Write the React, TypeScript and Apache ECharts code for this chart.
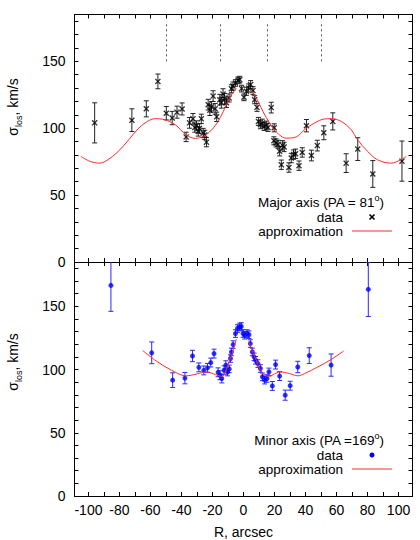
import React, { useEffect, useRef } from 'react';
import * as echarts from 'echarts';

// ---- Major axis (PA = 81°) ----
const majorR = [-96, -72, -62.7, -55.2, -49.8, -46, -42.9, -39.6, -37, -34.8, -32.6, -31.4, -30.3, -29.2, -28.4, -27.2, -26, -25, -23.9, -22.8, -21.7, -20.6, -19.6, -18.3, -17.3, -15.3, -14.3, -13.2, -12.2, -11, -9.3, -7.8, -6.8, -5.2, -3.5, -2.4, -1.2, 0.3, 1.9, 3.3, 4.6, 6.1, 7.2, 8.7, 9.6, 10.9, 12.1, 13.4, 14.7, 15.8, 17.9, 19.8, 19.6, 21, 22.3, 23.3, 24.4, 25.2, 26.2, 29.3, 30.8, 32.3, 33.6, 35.8, 37.9, 40.6, 43.8, 47.6, 51.8, 57.6, 66.2, 73.7, 83.4, 102.2];
const majorSigma = [104, 106, 114.5, 135, 111.2, 107.6, 112, 114.4, 93.5, 104, 107, 100.5, 102, 97.6, 99.8, 107, 96.4, 95, 89.6, 117.6, 113.5, 116, 124, 114.5, 108.5, 121.3, 119, 125.5, 122, 119, 122.6, 129.5, 131.5, 133.8, 135.8, 136.3, 129.6, 123.1, 127.6, 130.1, 132.6, 128.1, 121.3, 115.6, 105.1, 102.6, 103.8, 101.3, 102.3, 100.6, 115.4, 100.3, 90.6, 89, 88, 82.8, 72.7, 87.2, 86, 70.6, 77.7, 80.3, 80.9, 72, 81.9, 101.9, 79.6, 87, 96.6, 105.1, 73.9, 84.4, 65.8, 75.4];
const majorErr = [15, 8.5, 6, 5.5, 5, 5, 4.5, 4.5, 3.5, 4, 4, 3.5, 3.5, 3.5, 3.5, 3.5, 3.5, 3.5, 3.5, 4, 4, 4, 4, 4, 3.5, 4, 4, 4, 4, 3.5, 3, 3, 3, 2.5, 2.5, 2.5, 2.5, 2.5, 3, 3, 3, 3, 3, 3, 3, 3, 3, 3, 3, 3, 4, 3, 3, 3, 3, 3.5, 3.5, 3.5, 3.5, 3.5, 3.5, 3.5, 3.5, 3.5, 3.5, 4.6, 4, 4, 5.2, 6.4, 7, 8.5, 10, 15];
const majorFitR = [-105, -100, -96, -93, -88, -81, -74, -68, -62, -57, -51, -44, -37, -31, -26, -22, -17, -13, -9, -4.6, 0, 4.6, 8.3, 12.5, 16.8, 21.2, 27.6, 34, 39.4, 45.8, 52.2, 56.5, 63, 69.4, 73.6, 80.1, 86.5, 95, 101.5, 105];
const majorFitSigma = [79, 75.7, 74.3, 73.9, 76, 82.4, 91.4, 99.6, 105.1, 107.1, 106.4, 102.6, 95.1, 92.4, 93.9, 97.1, 103.9, 112.6, 122.6, 130, null, 129, 122.6, 112.6, 103.9, 97.1, 92.6, 93.5, 98.9, 103.9, 106.9, 107.1, 105.1, 98.9, 91.4, 82.6, 76.4, 73.9, 76.4, 79];
const slitMarksR = [-50, -15, 15, 50];
const slitMarksRange = [150, 180];

// ---- Minor axis (PA = 169°) ----
const minorR = [-85.5, -59.2, -45.7, -37.8, -32.9, -28.8, -25.6, -23.2, -21.1, -19, -16.4, -15.2, -14, -12.5, -11.4, -10.3, -9.2, -8.4, -7.8, -6.7, -5.2, -3.9, -2.4, -1.4, -0.3, 0.8, 2.3, 3.5, 4.4, 5.7, 6.8, 7.8, 9.3, 10.9, 12.2, 13.6, 15.1, 16.4, 18.6, 20.7, 23.3, 26.9, 30.1, 35, 42.4, 56.5, 80.5];
const minorSigma = [166.5, 113.2, 91.6, 93.2, 110.7, 101.7, 99.3, 101.3, 105.5, 112.6, 97.8, 95.5, 92.9, 99.4, 103.4, 98, 100.5, 108.7, 113.9, 119.7, 128.4, 132.4, 133.6, 134, 128.5, 127.1, 128.4, 127.5, 120.5, 113.9, 110, 107.3, 104.7, 100.8, 94.2, 91.6, 92.9, 98.1, 87, 103.9, 94.8, 79.7, 87.2, 102, 111, 103.5, 163.4];
const minorErr = [20.5, 8.6, 5.8, 4.5, 4.5, 3.5, 3.5, 3.5, 3.5, 3.5, 3.5, 3.5, 3.5, 3.5, 3.5, 3, 3, 3, 3, 3, 3, 3, 3, 3, 3, 3, 3, 3, 3, 3, 3, 3, 3, 3, 3, 3, 3, 3, 3.5, 3.5, 3.5, 4, 3.5, 4.5, 6.2, 8.8, 21.5];
const minorFitR = [-65, -56, -46.4, -37, -30, -24, -18, -14, -10, -7, -4.6, 0, 3.5, 6, 8.3, 10.5, 13.6, 16.8, 20, 23.3, 29.7, 35, 39.4, 47.9, 56.5, 64.6];
const minorFitSigma = [115, 106.5, 99.4, 95, 96.5, 98.1, 96, 94.5, 103.4, 114, 124, null, 122.6, 113.5, 107.3, 100.5, 95.5, 94.7, 96.5, 98.1, 96.8, 95, 96.8, 102, 107.9, 114.7];

// ---- Axes ----
const xRange = [-109, 109];
const yRange = [0, 185];
const xTickLabels = [-100, -80, -60, -40, -20, 0, 20, 40, 60, 80, 100];
const xTicks = [-100, -90, -80, -70, -60, -50, -40, -30, -20, -10, 0, 10, 20, 30, 40, 50, 60, 70, 80, 90, 100];
const yTickLabels = [0, 50, 100, 150];
const yTicks = [0, 10, 20, 30, 40, 50, 60, 70, 80, 90, 100, 110, 120, 130, 140, 150, 160, 170, 180];

const FONT = "'Liberation Sans', Arial, Helvetica, sans-serif";
const RED = '#ff2a2a';
const BLUE = '#0000ff';

const errRender = (color: string) => (params: any, api: any) => {
  const x = api.value(0);
  const y = api.value(1);
  const e = api.value(2);
  const c = api.coord([x, y]);
  const hi = api.coord([x, y + e]);
  const lo = api.coord([x, y - e]);
  const w = 2.5;
  const style = { stroke: color, lineWidth: 1 };
  return {
    type: 'group',
    children: [
      { type: 'line', shape: { x1: c[0], y1: hi[1], x2: c[0], y2: lo[1] }, style },
      { type: 'line', shape: { x1: c[0] - w, y1: hi[1], x2: c[0] + w, y2: hi[1] }, style },
      { type: 'line', shape: { x1: c[0] - w, y1: lo[1], x2: c[0] + w, y2: lo[1] }, style },
    ],
  };
};

const xAxisDef = (gridIndex: number, position: string, labels: boolean) => ({
  type: 'value',
  gridIndex,
  position,
  min: xRange[0],
  max: xRange[1],
  axisLine: { show: true, onZero: false, lineStyle: { color: '#000', width: 1 } },
  axisTick: { show: true, inside: true, length: 4, customValues: xTicks, lineStyle: { color: '#000' } },
  axisLabel: { show: labels, customValues: xTickLabels, color: '#000', fontSize: 14, fontFamily: FONT, margin: 7 },
  splitLine: { show: false },
  ...(labels
    ? { name: 'R, arcsec', nameLocation: 'middle', nameGap: 29, nameTextStyle: { color: '#000', fontSize: 14, fontFamily: FONT } }
    : {}),
});

const yAxisDef = (gridIndex: number, position: string, labels: boolean) => ({
  type: 'value',
  gridIndex,
  position,
  min: yRange[0],
  max: yRange[1],
  axisLine: { show: true, onZero: false, lineStyle: { color: '#000', width: 1 } },
  axisTick: { show: true, inside: true, length: 4, customValues: yTicks, lineStyle: { color: '#000' } },
  axisLabel: { show: labels, customValues: yTickLabels, color: '#000', fontSize: 14, fontFamily: FONT, margin: 9 },
  splitLine: { show: false },
});

const fitData = (rs: number[], ss: (number | null)[]) => rs.map((r, i) => [r, ss[i] == null ? '-' : ss[i]]);

const crossPath = 'path://M0,1.6L1.6,0L5,3.4L8.4,0L10,1.6L6.6,5L10,8.4L8.4,10L5,6.6L1.6,10L0,8.4L3.4,5Z';

const yLabel = (y: number) => ({
  type: 'text',
  x: 13,
  y,
  rotation: Math.PI / 2,
  style: {
    text: '{m|σ}{s|los}{m|, km/s}',
    align: 'center',
    verticalAlign: 'middle',
    textAlign: 'center',
    textVerticalAlign: 'middle',
    fill: '#000',
    fontFamily: FONT,
    rich: {
      m: { fontSize: 14, lineHeight: 20, verticalAlign: 'middle', fontFamily: FONT, fill: '#000', color: '#000' },
      s: { fontSize: 9, lineHeight: 10, verticalAlign: 'bottom', fontFamily: FONT, fill: '#000', color: '#000' },
    },
  },
});

const txt = (x: number, y: number, text: string, size: number) => ({
  type: 'text',
  x,
  y,
  style: { text, align: 'right', verticalAlign: 'middle', textAlign: 'right', textVerticalAlign: 'middle', fill: '#000', fontSize: size, fontFamily: FONT },
});

// title with superscript degree sign: main text, raised "o", closing parenthesis
const legendTitle = (y: number, label: string) => [
  txt(384, y, ')', 13.5),
  txt(379.5, y - 4.5, 'o', 9),
  txt(374.5, y, label, 13.5),
];

export default function App() {
  const ref = useRef<HTMLDivElement>(null);
  useEffect(() => {
    if (!ref.current) return;
    const chart = echarts.init(ref.current, null, { renderer: 'svg' });
    const majorData = majorR.map((r, i) => [r, majorSigma[i], majorErr[i]]);
    const minorData = minorR.map((r, i) => [r, minorSigma[i], minorErr[i]]);
    const option: any = {
      animation: false,
      backgroundColor: '#fff',
      textStyle: { fontFamily: FONT },
      grid: [
        { left: 74.5, top: 14.5, width: 338, height: 247.5 },
        { left: 74.5, top: 262, width: 338, height: 234 },
      ],
      xAxis: [xAxisDef(0, 'bottom', false), xAxisDef(0, 'top', false), xAxisDef(1, 'bottom', true), xAxisDef(1, 'top', false)],
      yAxis: [yAxisDef(0, 'left', true), yAxisDef(0, 'right', false), yAxisDef(1, 'left', true), yAxisDef(1, 'right', false)],
      series: [
        {
          name: 'major errors',
          type: 'custom',
          xAxisIndex: 0,
          yAxisIndex: 0,
          clip: true,
          renderItem: errRender('#222'),
          encode: { x: 0, y: 1 },
          data: majorData,
          z: 2,
        },
        {
          name: 'major data',
          type: 'scatter',
          xAxisIndex: 0,
          yAxisIndex: 0,
          symbol: crossPath,
          symbolSize: 6,
          itemStyle: { color: '#000' },
          data: majorData.map((d) => [d[0], d[1]]),
          z: 3,
        },
        {
          name: 'major approximation',
          type: 'line',
          xAxisIndex: 0,
          yAxisIndex: 0,
          showSymbol: false,
          symbol: 'none',
          smooth: 0.35,
          connectNulls: false,
          lineStyle: { color: RED, width: 1 },
          data: fitData(majorFitR, majorFitSigma),
          z: 4,
          markLine: {
            silent: true,
            symbol: ['none', 'none'],
            label: { show: false },
            lineStyle: { color: '#555', type: [2, 3], width: 1 },
            data: slitMarksR.map((r) => [{ coord: [r, slitMarksRange[0]] }, { coord: [r, slitMarksRange[1]] }]),
          },
        },
        {
          name: 'minor errors',
          type: 'custom',
          xAxisIndex: 2,
          yAxisIndex: 2,
          clip: true,
          renderItem: errRender('#2a2aff'),
          encode: { x: 0, y: 1 },
          data: minorData,
          z: 2,
        },
        {
          name: 'minor data',
          type: 'scatter',
          xAxisIndex: 2,
          yAxisIndex: 2,
          symbol: 'circle',
          symbolSize: 5,
          itemStyle: { color: BLUE },
          data: minorData.map((d) => [d[0], d[1]]),
          z: 3,
        },
        {
          name: 'minor approximation',
          type: 'line',
          xAxisIndex: 2,
          yAxisIndex: 2,
          showSymbol: false,
          symbol: 'none',
          smooth: 0.35,
          connectNulls: false,
          lineStyle: { color: RED, width: 1 },
          data: fitData(minorFitR, minorFitSigma),
          z: 4,
        },
      ],
      graphic: [
        yLabel(107),
        yLabel(362),
        ...legendTitle(202.5, 'Major axis (PA = 81'),
        txt(343, 217, 'data', 13.5),
        { type: 'line', shape: { x1: 369.5, y1: 214.5, x2: 374.5, y2: 219.5 }, style: { stroke: '#000', lineWidth: 1.6 } },
        { type: 'line', shape: { x1: 369.5, y1: 219.5, x2: 374.5, y2: 214.5 }, style: { stroke: '#000', lineWidth: 1.6 } },
        txt(343, 231.5, 'approximation', 13.5),
        { type: 'line', shape: { x1: 352, y1: 231, x2: 392, y2: 231 }, style: { stroke: RED, lineWidth: 1.2 } },
        ...legendTitle(440.5, 'Minor axis (PA =169'),
        txt(343, 455, 'data', 13.5),
        { type: 'circle', shape: { cx: 372, cy: 455, r: 2.5 }, style: { fill: BLUE } },
        txt(343, 469.5, 'approximation', 13.5),
        { type: 'line', shape: { x1: 352, y1: 469, x2: 392, y2: 469 }, style: { stroke: RED, lineWidth: 1.2 } },
      ],
    };
    chart.setOption(option);
    return () => chart.dispose();
  }, []);
  return <div ref={ref} style={{ position: 'fixed', left: 0, top: 0, width: 420, height: 540, background: '#fff' }} />;
}
